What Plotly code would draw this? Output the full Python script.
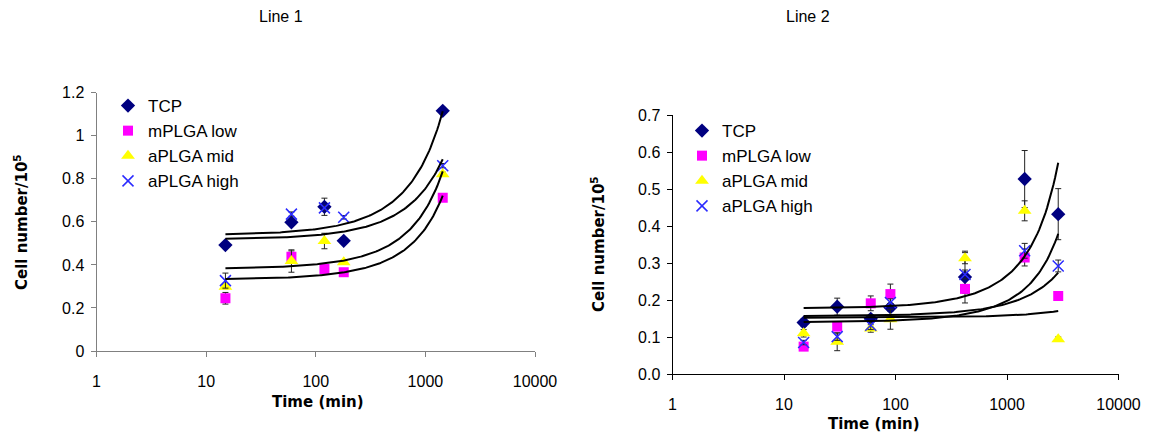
import numpy as np
import plotly.graph_objects as go

# ---- Line 1 data (time in min, cell number / 10^5) ----
time_1 = [15, 60, 120, 180, 1440]
tcp_1 = [0.492, 0.598, 0.670, 0.512, 1.116]
mplga_1 = [0.245, 0.438, 0.381, 0.366, 0.712]
amid_1 = [0.299, 0.418, 0.511, 0.412, 0.821]
ahigh_1 = [0.327, 0.636, 0.665, 0.621, 0.861]
tcp_1_err = [0.008, 0.008, 0.040, 0.008, 0.006]
mplga_1_err = [0.027, 0.027, 0.010, 0.008, 0.008]
amid_1_err = [0.010, 0.052, 0.036, 0.010, 0.010]
ahigh_1_err = [0.035, 0.010, 0.010, 0.008, 0.010]

# ---- Line 2 data ----
time_2 = [15, 30, 60, 90, 420, 1440, 2880]
tcp_2 = [0.139, 0.182, 0.149, 0.180, 0.262, 0.527, 0.432]
mplga_2 = [0.074, 0.128, 0.191, 0.216, 0.230, 0.315, 0.211]
amid_2 = [0.110, 0.087, 0.123, 0.148, 0.313, 0.441, 0.094]
ahigh_2 = [0.085, 0.101, 0.132, 0.193, 0.269, 0.333, 0.292]
tcp_2_err = [0.010, 0.023, 0.010, 0.010, 0.070, 0.077, 0.069]
mplga_2_err = [0.006, 0.010, 0.020, 0.027, 0.012, 0.023, 0.010]
amid_2_err = [0.010, 0.024, 0.010, 0.027, 0.015, 0.027, 0.006]
ahigh_2_err = [0.006, 0.010, 0.012, 0.010, 0.012, 0.020, 0.016]

series_names = ["TCP", "mPLGA low", "aPLGA mid", "aPLGA high"]
x_ticks = [1, 10, 100, 1000, 10000]
x_ticktext = ["1", "10", "100", "1000", "10000"]

styles = [
    dict(symbol="diamond", size=11, color="#000080", line=dict(width=0)),
    dict(symbol="square", size=10, color="#FF00FF", line=dict(width=0)),
    dict(symbol="triangle-up", size=12, color="#FFFF00", line=dict(width=0)),
    dict(symbol="x-thin", size=11, color="#2B2BFF", line=dict(color="#2B2BFF", width=1.5)),
]

fig = go.Figure()


def add_panel(times, values, errors, xa, ya, legend_name):
    for name, y, err, st in zip(series_names, values, errors, styles):
        fig.add_trace(go.Scatter(
            x=times, y=y, mode="markers", name=name,
            marker=st,
            error_y=dict(type="data", array=err, visible=True,
                         color="#222222", thickness=1, width=3),
            xaxis=xa, yaxis=ya, legend=legend_name,
        ))
    # exponential trendline per series (least squares on log y)
    for y in values:
        t = np.asarray(times, dtype=float)
        k, ln_a = np.polyfit(t, np.log(np.asarray(y, dtype=float)), 1)
        tt = np.geomspace(t[0], t[-1], 160)
        fig.add_trace(go.Scatter(
            x=tt, y=np.exp(ln_a + k * tt), mode="lines",
            line=dict(color="black", width=2),
            xaxis=xa, yaxis=ya, showlegend=False, hoverinfo="skip",
        ))


add_panel(time_1, [tcp_1, mplga_1, amid_1, ahigh_1],
          [tcp_1_err, mplga_1_err, amid_1_err, ahigh_1_err], "x", "y", "legend")
add_panel(time_2, [tcp_2, mplga_2, amid_2, ahigh_2],
          [tcp_2_err, mplga_2_err, amid_2_err, ahigh_2_err], "x2", "y2", "legend2")

W, H = 1155, 440
SANS = "Liberation Sans, Arial, sans-serif"
tick_font = dict(family=SANS, size=16, color="black")
legend_font = dict(family=SANS, size=17, color="black")


def xaxis_style(domain, line_color, anchor):
    return dict(type="log", range=[0, 4], domain=domain, anchor=anchor,
                tickmode="array", tickvals=x_ticks, ticktext=x_ticktext,
                showline=True, linecolor=line_color, linewidth=1,
                ticks="outside", ticklen=5, tickcolor=line_color,
                showgrid=False, zeroline=False, tickfont=tick_font,
                ticklabelstandoff=11, automargin=False)


def yaxis_style(domain, rng, dtick, fmt, anchor, line_color):
    return dict(range=rng, domain=domain, dtick=dtick, tick0=0, tickformat=fmt,
                showline=True, linecolor=line_color, linewidth=1,
                ticks="outside", ticklen=5, tickcolor=line_color,
                showgrid=False, zeroline=False, tickfont=tick_font,
                anchor=anchor, ticklabelstandoff=3, automargin=False)


fig.update_layout(
    width=W, height=H,
    margin=dict(l=0, r=0, t=0, b=0, autoexpand=False),
    paper_bgcolor="white", plot_bgcolor="white",
    xaxis=xaxis_style([96.5 / W, 535 / W], "#808080", "y"),
    yaxis=yaxis_style([1 - 351 / H, 1 - 92.7 / H], [0, 1.2], 0.2, "", "x", "#808080"),
    xaxis2=xaxis_style([672.5 / W, 1118.5 / W], "black", "y2"),
    yaxis2=yaxis_style([1 - 374 / H, 1 - 115 / H], [0, 0.7], 0.1, ".1f", "x2", "black"),
    legend=dict(x=108 / W, y=1 - 88 / H, xanchor="left", yanchor="top",
                bgcolor="rgba(0,0,0,0)", font=legend_font,
                itemwidth=30, tracegroupgap=0),
    legend2=dict(x=682 / W, y=1 - 113 / H, xanchor="left", yanchor="top",
                 bgcolor="rgba(0,0,0,0)", font=legend_font,
                 itemwidth=30, tracegroupgap=0),
)

title_font = dict(family=SANS, size=16, color="black")
axis_title_font = dict(family="DejaVu Sans, Liberation Sans, sans-serif", size=15, color="black")
annotations = [
    dict(text="Line 1", x=281 / W, y=1 - 17 / H, font=title_font),
    dict(text="Line 2", x=808 / W, y=1 - 17 / H, font=title_font),
    dict(text="<b>Time (min)</b>", x=318 / W, y=1 - 402 / H, font=axis_title_font),
    dict(text="<b>Time (min)</b>", x=874 / W, y=1 - 424 / H, font=axis_title_font),
    dict(text="<b>Cell number/10<sup>5</sup></b>", x=21 / W, y=1 - 222 / H,
         textangle=-90, font=axis_title_font),
    dict(text="<b>Cell number/10<sup>5</sup></b>", x=598 / W, y=1 - 244 / H,
         textangle=-90, font=axis_title_font),
]
for a in annotations:
    a.update(xref="paper", yref="paper", showarrow=False, xanchor="center", yanchor="middle")
fig.update_layout(annotations=annotations)

fig.write_html("out.html")
